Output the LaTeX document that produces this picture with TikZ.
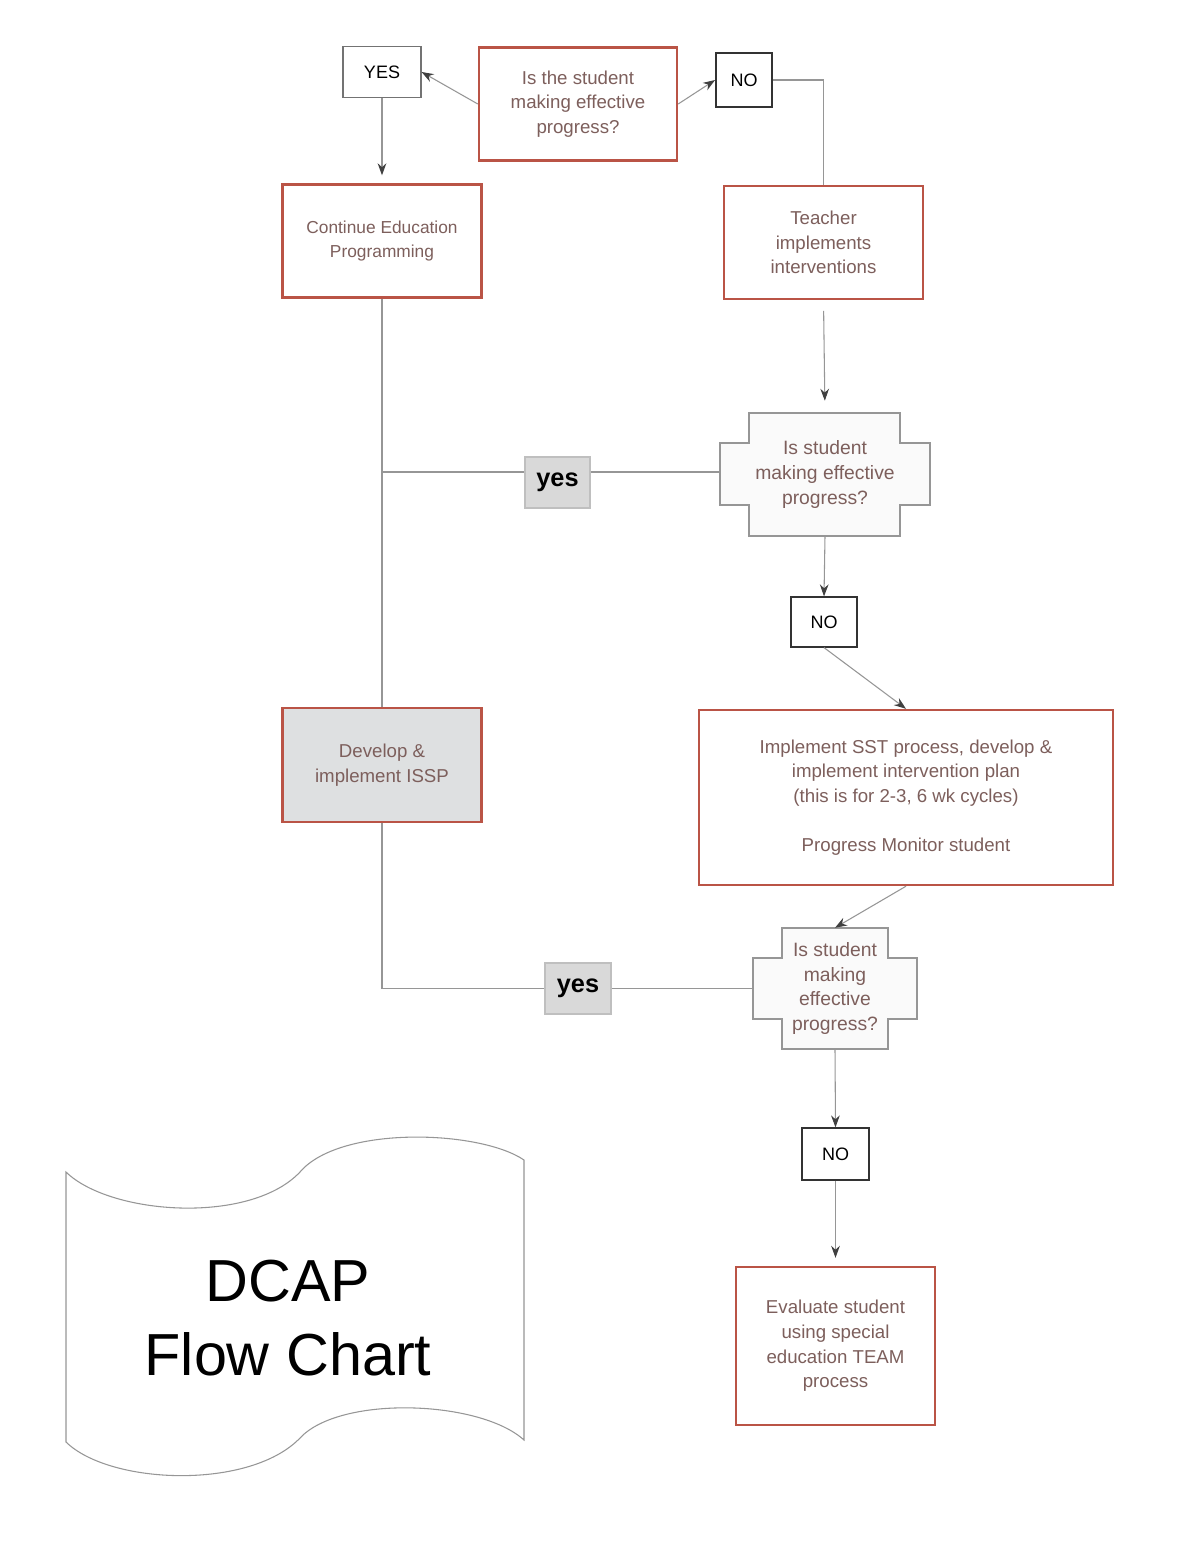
\documentclass[tikz,border=0pt]{standalone}
\usepackage{fontspec}
\setmainfont{Liberation Sans}
\usetikzlibrary{arrows.meta}
\definecolor{boxred}{RGB}{186,84,70}
\definecolor{txtbrown}{RGB}{125,95,92}
\definecolor{linegray}{RGB}{150,150,150}
\definecolor{fillgray}{RGB}{222,224,225}
\begin{document}
\begin{tikzpicture}[x=0.75pt,y=0.75pt,yscale=-1,xscale=1,
  boxsize/.style 2 args={minimum width=#1*0.75pt,minimum height=#2*0.75pt},
  redbox/.style={draw=boxred,line width=1.8pt,fill=white,text=txtbrown,align=center,inner sep=0pt,font=\fontsize{14}{18.5}\selectfont},
  answer/.style={draw=black!80,line width=0.9pt,fill=white,inner sep=0pt,font=\fontsize{13.5}{16}\selectfont},
  yesbox/.style={draw=black!25,line width=1pt,fill=black!15,inner sep=0pt,font=\fontsize{19}{22}\selectfont\bfseries},
  question/.style={text=txtbrown,align=center,inner sep=0pt,font=\fontsize{14.5}{18.5}\selectfont},
  cross/.style={draw=linegray,line width=0.8pt,fill=black!2},
  link/.style={draw=linegray,line width=0.8pt},
  arr/.style={link,-{Stealth[length=9pt,width=6.5pt,color=black!75]}}]
\useasboundingbox (0,0) rectangle (1185,1553);

%Shape: Rectangle
\draw (578,104) node (qone) [redbox,boxsize={198}{113}] {Is the student\\making effective\\progress?};
\draw (382,72) node (yesone) [answer,draw=black!55,boxsize={78}{51}] {YES};
\draw (744,80) node (noone) [answer,line width=1.4pt,boxsize={56}{54}] {NO};
\draw (382,241) node (cont) [redbox,font=\fontsize{13}{17.5}\selectfont,boxsize={199}{113}] {Continue Education\\Programming};
\draw (823.5,242.5) node (teach) [redbox,boxsize={199}{113}] {Teacher\\implements\\interventions};

%Shape: Cross
\draw [cross] (749,413) -- (900,413) -- (900,443) -- (930,443) -- (930,505) -- (900,505) -- (900,536) -- (749,536) -- (749,505) -- (720,505) -- (720,443) -- (749,443) -- cycle ;
\draw (825,474.5) node (qtwo) [question,boxsize={210}{123}] {Is student\\making effective\\progress?};

\draw (824,622) node (notwo) [answer,boxsize={66}{50}] {NO};
\draw (906,797.5) node (sst) [redbox,boxsize={414}{175}] {Implement SST process, develop \&\\implement intervention plan\\(this is for 2-3, 6 wk cycles)\\[\baselineskip]Progress Monitor student};
\draw (382,765) node (dev) [redbox,fill=fillgray,boxsize={199}{114}] {Develop \&\\implement ISSP};

%Shape: Cross
\draw [cross] (782,928) -- (888,928) -- (888,958) -- (917,958) -- (917,1019) -- (888,1019) -- (888,1049) -- (782,1049) -- (782,1019) -- (753,1019) -- (753,958) -- (782,958) -- cycle ;
\draw (835,988.5) node (qthree) [question,boxsize={164}{121}] {Is student\\making\\effective\\progress?};

\draw (835.5,1154) node (nothree) [answer,boxsize={67}{52}] {NO};
\draw (835.5,1346) node (eval) [redbox,boxsize={199}{158}] {Evaluate student\\using special\\education TEAM\\process};

%Label boxes
\draw (557.5,482.5) node (yestwo) [yesbox,boxsize={65}{51}] {yes};
\draw (578,988.5) node (yesthree) [yesbox,boxsize={66}{51}] {yes};

%Straight Lines
\coordinate (jone) at (382,472);
\draw [arr] (qone.west) -- (yesone.east);
\draw [arr] (qone.east) -- (noone.west);
\draw [arr,shorten >=6pt] (yesone.south) -- (cont.north);
\draw [link] (noone.east) -| (teach.north);
\draw [arr,shorten <=8pt,shorten >=9pt] (teach.south) -- (qtwo.north);
\draw [link] (cont.south) -- (dev.north);
\draw [link] (jone) -- (jone -| yestwo.west);
\draw [link] (yestwo.east |- jone) -- (jone -| qtwo.west);
\draw [arr] (qtwo.south) -- (notwo.north);
\draw [arr] (notwo.south) -- (sst.north);
\draw [arr] (sst.south) -- (qthree.north);
\draw [link] (dev.south) |- (yesthree.west);
\draw [link] (yesthree.east) -- (qthree.west);
\draw [arr] (qthree.south) -- (nothree.north);
\draw [arr,shorten >=6pt] (nothree.south) -- (eval.north);

%Shape: Wave
\draw [link,fill=white] (66,1172) .. controls (110,1215) and (250,1225) .. (300,1172) .. controls (340,1125) and (480,1130) .. (524,1160) -- (524,1440) .. controls (480,1400) and (340,1395) .. (300,1438) .. controls (250,1490) and (110,1485) .. (66,1442) -- cycle ;
% Text Node
\draw (288,1318) node (title) [align=center,font=\fontsize{44.5}{56}\selectfont] {DCAP\\Flow Chart};

\end{tikzpicture}
\end{document}
